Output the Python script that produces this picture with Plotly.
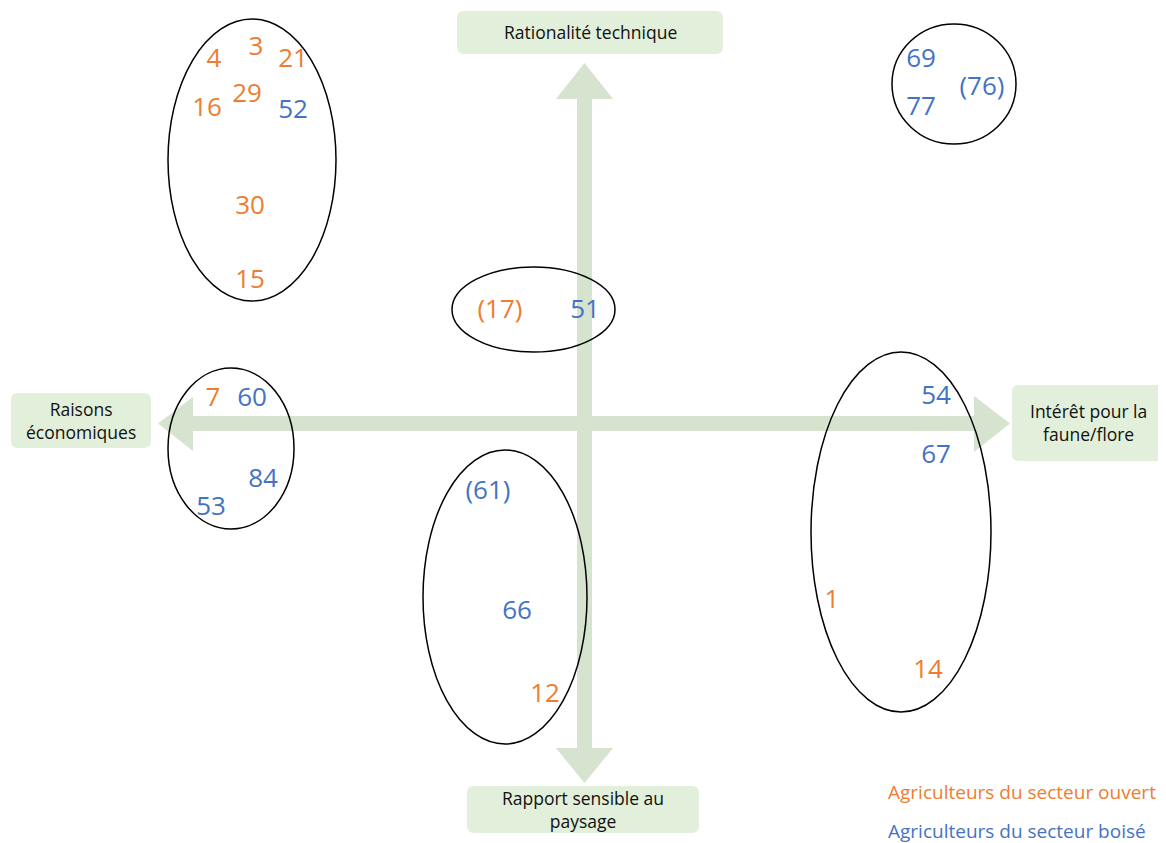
import plotly.graph_objects as go

# ---------------- data ----------------
# positions are expressed relative to the centre of the cross (x: right = faune/flore, y: up = rationalité technique)
open_labels = ["4", "3", "21", "16", "29", "30", "15", "(17)", "7", "1", "14", "12"]
open_x = [-370, -328, -291, -377, -337, -334, -334, -84, -371, 248, 344, -39]
open_y = [363, 375, 363, 314, 328, 216, 142, 112, 24, -178, -248, -272]

wood_labels = ["52", "69", "(76)", "77", "51", "60", "84", "53", "54", "67", "(61)", "66"]
wood_x = [-291, 337, 398, 337, 1, -332, -321, -373, 352, 352, -96, -67]
wood_y = [312, 363, 335, 315, 112, 24, -57, -85, 26, -33, -69, -189]

axis_labels = ["Rationalité technique", "Raisons<br>économiques", "Intérêt pour la<br>faune/flore",
               "Rapport sensible au<br>paysage"]
legend_labels = ["Agriculteurs du secteur ouvert", "Agriculteurs du secteur boisé"]

ORANGE = "#ED7D31"
BLUE = "#4472C4"
ARROW = "rgb(213,227,207)"
BOX = "rgb(226,239,218)"

CX, CY = 584, 423  # pixel position of the cross centre
OFF = 8            # page body margin


def X(px):
    return px - CX


def Y(py):
    return CY - py


def rrect(x0, y0, x1, y1, r=7):
    a, b, c, d = X(x0), Y(y0), X(x1), Y(y1)
    return (f"M {a+r},{b} L {c-r},{b} Q {c},{b} {c},{b-r} L {c},{d+r} Q {c},{d} {c-r},{d} "
            f"L {a+r},{d} Q {a},{d} {a},{d+r} L {a},{b-r} Q {a},{b} {a+r},{b} Z")


def poly(pts):
    return "M " + " L ".join(f"{X(p[0])},{Y(p[1])}" for p in pts) + " Z"


shapes = []
# arrow shafts
shapes.append(dict(type="rect", x0=X(577), x1=X(592), y0=Y(98), y1=Y(749), fillcolor=ARROW, line_width=0, layer="below"))
shapes.append(dict(type="rect", x0=X(192), x1=X(975), y0=Y(416), y1=Y(431), fillcolor=ARROW, line_width=0, layer="below"))
# arrow heads
shapes.append(dict(type="path", path=poly([(584.5, 63), (613, 99), (556, 99)]), fillcolor=ARROW, line_width=0, layer="below"))
shapes.append(dict(type="path", path=poly([(584.5, 783), (613, 748), (556, 748)]), fillcolor=ARROW, line_width=0, layer="below"))
shapes.append(dict(type="path", path=poly([(158, 423.5), (193, 397), (193, 451)]), fillcolor=ARROW, line_width=0, layer="below"))
shapes.append(dict(type="path", path=poly([(1010, 423.5), (974, 396), (974, 452)]), fillcolor=ARROW, line_width=0, layer="below"))
# boxes
for bx in [(457, 11, 723, 54), (11, 393, 151, 448), (1012, 385, 1163, 461), (467, 786, 699, 833)]:
    shapes.append(dict(type="path", path=rrect(*bx), fillcolor=BOX, line_width=0, layer="below"))
# ellipses
for el in [(168, 19, 336, 301), (892, 24, 1016, 144), (452, 267, 615, 352), (168, 368, 294, 529),
           (423, 450, 587, 744), (811, 352, 991, 712)]:
    shapes.append(dict(type="circle", x0=X(el[0]), x1=X(el[2]), y0=Y(el[1]), y1=Y(el[3]),
                       line=dict(color="black", width=1.5), layer="below"))

fig = go.Figure()
fig.add_trace(go.Scatter(x=open_x, y=open_y, text=open_labels, mode="text",
                         textfont=dict(family="Open Sans", size=26, color=ORANGE),
                         textposition="middle center", hoverinfo="skip", showlegend=False))
fig.add_trace(go.Scatter(x=wood_x, y=wood_y, text=wood_labels, mode="text",
                         textfont=dict(family="Open Sans", size=26, color=BLUE),
                         textposition="middle center", hoverinfo="skip", showlegend=False))

annotations = []
label_pos = [(590, 32), (81, 420), (1088, 422), (583, 809)]
for t, (px, py) in zip(axis_labels, label_pos):
    annotations.append(dict(x=X(px), y=Y(py), text=t, showarrow=False,
                            font=dict(family="Open Sans", size=17.5, color="#111111"),
                            xanchor="center", yanchor="middle", align="center"))
for t, py, col in zip(legend_labels, [792, 831], [ORANGE, BLUE]):
    annotations.append(dict(x=X(886), y=Y(py), text=t, showarrow=False,
                            font=dict(family="Open Sans", size=19, color=col),
                            xanchor="left", yanchor="middle"))

fig.update_layout(
    width=1166 - OFF, height=843 - OFF,
    margin=dict(l=0, r=0, t=0, b=0),
    paper_bgcolor="white", plot_bgcolor="white",
    xaxis=dict(range=[X(OFF), X(1166)], visible=False, fixedrange=True),
    yaxis=dict(range=[Y(843), Y(OFF)], visible=False, fixedrange=True),
    shapes=shapes, annotations=annotations,
)

fig.write_html("out.html", config={"displayModeBar": False})
